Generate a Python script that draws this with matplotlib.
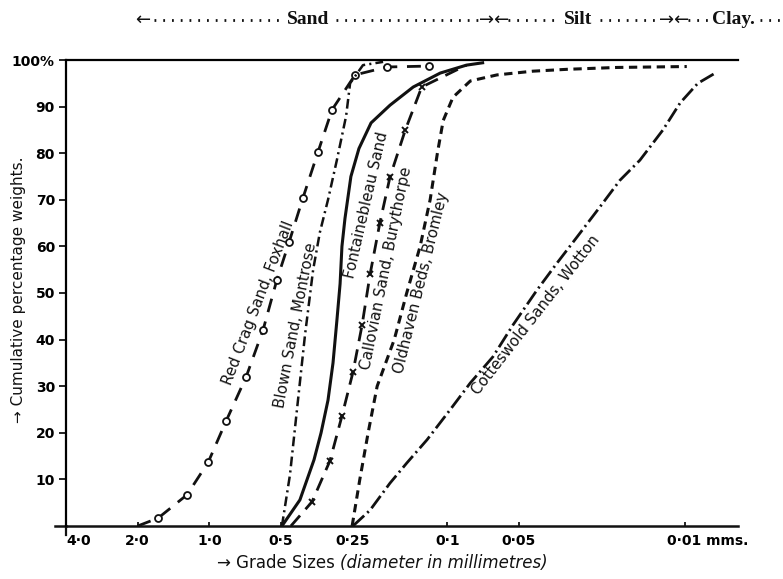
import matplotlib
matplotlib.use("Agg")
import matplotlib.pyplot as plt
from matplotlib.lines import Line2D
from matplotlib.transforms import ScaledTranslation
import numpy as np

plt.rcParams['lines.scale_dashes'] = False
plt.rcParams['font.family'] = ['DejaVu Sans']

# ---------------- data (grain diameter in mm, cumulative %) ----------------
red_crag_d   = [2.0, 1.64, 1.24, 1.01, 0.85, 0.70, 0.594, 0.52, 0.462, 0.404, 0.349, 0.305, 0.244, 0.179, 0.119]
red_crag_pct = [0.0, 1.7, 6.7, 13.7, 22.5, 32.0, 42.1, 52.8, 60.9, 70.4, 80.3, 89.3, 96.8, 98.5, 98.7]

blown_d   = [0.495, 0.458, 0.428, 0.396, 0.366, 0.343, 0.317, 0.291, 0.266, 0.256, 0.226, 0.186]
blown_pct = [0.0, 11.0, 25.0, 41.0, 55.0, 63.0, 70.0, 78.5, 88.0, 95.0, 98.9, 99.6]

fontaine_d   = [0.495, 0.416, 0.363, 0.339, 0.317, 0.302, 0.291, 0.282, 0.277, 0.269, 0.254, 0.235, 0.209, 0.174, 0.139, 0.107, 0.083, 0.071]
fontaine_pct = [0.0, 5.6, 14.2, 20.0, 27.0, 35.0, 44.0, 52.0, 60.0, 66.0, 75.0, 81.0, 86.5, 90.3, 94.2, 97.2, 98.9, 99.4]

callov_d   = [0.454, 0.370, 0.311, 0.277, 0.249, 0.228, 0.211, 0.192, 0.174, 0.150, 0.128, 0.083]
callov_pct = [0.0, 5.2, 14.0, 23.6, 33.0, 43.1, 54.0, 65.0, 74.9, 85.0, 94.2, 98.9]

oldhav_d   = [0.251, 0.233, 0.215, 0.197, 0.167, 0.148, 0.130, 0.118, 0.110, 0.104, 0.0946, 0.080, 0.0618, 0.0437, 0.0314, 0.0194, 0.00985]
oldhav_pct = [0.0, 10.0, 20.0, 30.0, 40.0, 50.0, 60.0, 70.0, 80.0, 87.0, 92.0, 95.5, 96.8, 97.6, 98.0, 98.4, 98.6]

cottes_d   = [0.249, 0.211, 0.174, 0.148, 0.1216, 0.0974, 0.080, 0.0643, 0.0530, 0.0420, 0.0346, 0.0285, 0.0228, 0.0188, 0.0155, 0.0124, 0.0105, 0.00885, 0.00736]
cottes_pct = [0.0, 3.4, 9.2, 13.5, 18.5, 24.9, 30.7, 36.3, 43.1, 50.6, 56.4, 62.0, 68.5, 74.2, 78.5, 85.0, 90.8, 95.0, 97.4]

x_ticks = [4.0, 2.0, 1.0, 0.5, 0.25, 0.1, 0.05, 0.01]
x_tick_labels = ["4·0", "2·0", "1·0", "0·5", "0·25", "0·1", "0·05", "0·01 mms."]
y_ticks = [10, 20, 30, 40, 50, 60, 70, 80, 90, 100]
y_tick_labels = ["10", "20", "30", "40", "50", "60", "70", "80", "90", "100%"]

# ---------------- figure ----------------
W, H = 783, 579
fig = plt.figure(figsize=(W / 100, H / 100), dpi=100)
L, R, B, T = 66, 738, 526, 60
ax = fig.add_axes([L / W, (H - B) / H, (R - L) / W, (B - T) / H])
ax.set_xscale('log')
ax.set_xlim(4.0, 0.006)
ax.set_ylim(0, 100)

ink = '#111111'
ax.plot(red_crag_d, red_crag_pct, color=ink, lw=2.0, ls=(0, (10, 7)),
        marker='o', ms=5, mfc='white', mec=ink, mew=1.3, markevery=slice(1, None))
ax.plot(blown_d, blown_pct, color=ink, lw=1.8, ls=(0, (7, 3, 1.5, 3)))
ax.plot(fontaine_d, fontaine_pct, color=ink, lw=2.2, ls='-')
ax.plot(callov_d, callov_pct, color=ink, lw=2.0, ls=(0, (10, 6)),
        marker='x', ms=5, mec=ink, mew=1.4, markevery=slice(1, -1))
ax.plot(oldhav_d, oldhav_pct, color=ink, lw=2.2, ls=(0, (6, 4)))
ax.plot(cottes_d, cottes_pct, color=ink, lw=2.0, ls=(0, (11, 3, 1.5, 3)))

# spines
for s in ['right', 'bottom']:
    ax.spines[s].set_visible(False)
ax.spines['left'].set_linewidth(1.6)
ax.spines['top'].set_linewidth(1.6)
ax.axhline(0, color=ink, lw=1.8, clip_on=False)
ax.add_line(Line2D([-0.017, 0], [0, 0], transform=ax.transAxes, color=ink, lw=1.8, clip_on=False))
ax.add_line(Line2D([0, 0], [-0.02, 0], transform=ax.transAxes, color=ink, lw=1.6, clip_on=False))

ax.set_xticks(x_ticks)
ax.set_xticklabels(x_tick_labels, fontsize=10, fontweight='bold')
ax.xaxis.set_minor_locator(matplotlib.ticker.NullLocator())
ax.tick_params(axis='x', direction='in', length=3, width=1.2, pad=6)
xl = ax.get_xticklabels()
xl[0].set_ha('left')
xl[-1].set_ha('left')
xl[-1].set_transform(xl[-1].get_transform() + ScaledTranslation(-13 / 72, 0, fig.dpi_scale_trans))

ax.set_yticks(y_ticks)
ax.set_yticklabels(y_tick_labels, fontsize=10, fontweight='bold')
ax.tick_params(axis='y', direction='out', length=5, width=1.2, pad=3)

# curve labels
lab_kw = dict(fontsize=10.8, color=ink, ha='center', va='center', rotation_mode='anchor')
ax.text(0.624, 47.9, "Red Crag Sand, Foxhall", rotation=69, **lab_kw)
ax.text(0.432, 43.1, "Blown Sand, Montrose", rotation=79, **lab_kw)
ax.text(0.2195, 68.9, "Fontainebleau Sand", rotation=77, **lab_kw)
ax.text(0.181, 55.4, "Callovian Sand, Burythorpe", rotation=78.5, **lab_kw)
ax.text(0.128, 52.1, "Oldhaven Beds, Bromley", rotation=76, **lab_kw)
ax.text(0.0424, 45.3, "Cotteswold Sands, Wotton", rotation=52, **lab_kw)

# axis titles
fig.text(19 / W, 1 - 290 / H, "→ Cumulative percentage weights.", rotation=90,
         ha='center', va='center', fontsize=11, color=ink)
fig.text(340 / W, 1 - 563 / H, "→ Grade Sizes ", ha='right', va='center', fontsize=12, color=ink)
fig.text(340 / W, 1 - 563 / H, "(diameter in millimetres)", ha='left', va='center',
         fontsize=12, style='italic', color=ink)

# header: Sand / Silt / Clay
hy = 1 - 20 / H
hdr_kw = dict(ha='center', va='center', fontsize=14, fontweight='bold',
              family=['Liberation Serif', 'DejaVu Serif'], color=ink)
fig.text(308 / W, hy, "Sand", **hdr_kw)
fig.text(578 / W, hy, "Silt", **hdr_kw)
fig.text(733 / W, hy, "Clay.", **hdr_kw)
arr_kw = dict(ha='center', va='center', fontsize=13, color=ink, family=['DejaVu Sans'])
fig.text(143 / W, hy, "←", **arr_kw)
fig.text(494 / W, hy, "→←", **arr_kw)
fig.text(674 / W, hy, "→←", **arr_kw)
dot_kw = dict(color=ink, lw=2.0, ls=(0, (1.3, 5)), transform=fig.transFigure)
for x0, x1 in [(154, 282), (336, 481), (508, 556), (600, 660), (688, 708), (760, 783)]:
    fig.add_artist(Line2D([x0 / W, x1 / W], [hy, hy], **dot_kw))

fig.savefig("out.png", dpi=100, facecolor='white')
